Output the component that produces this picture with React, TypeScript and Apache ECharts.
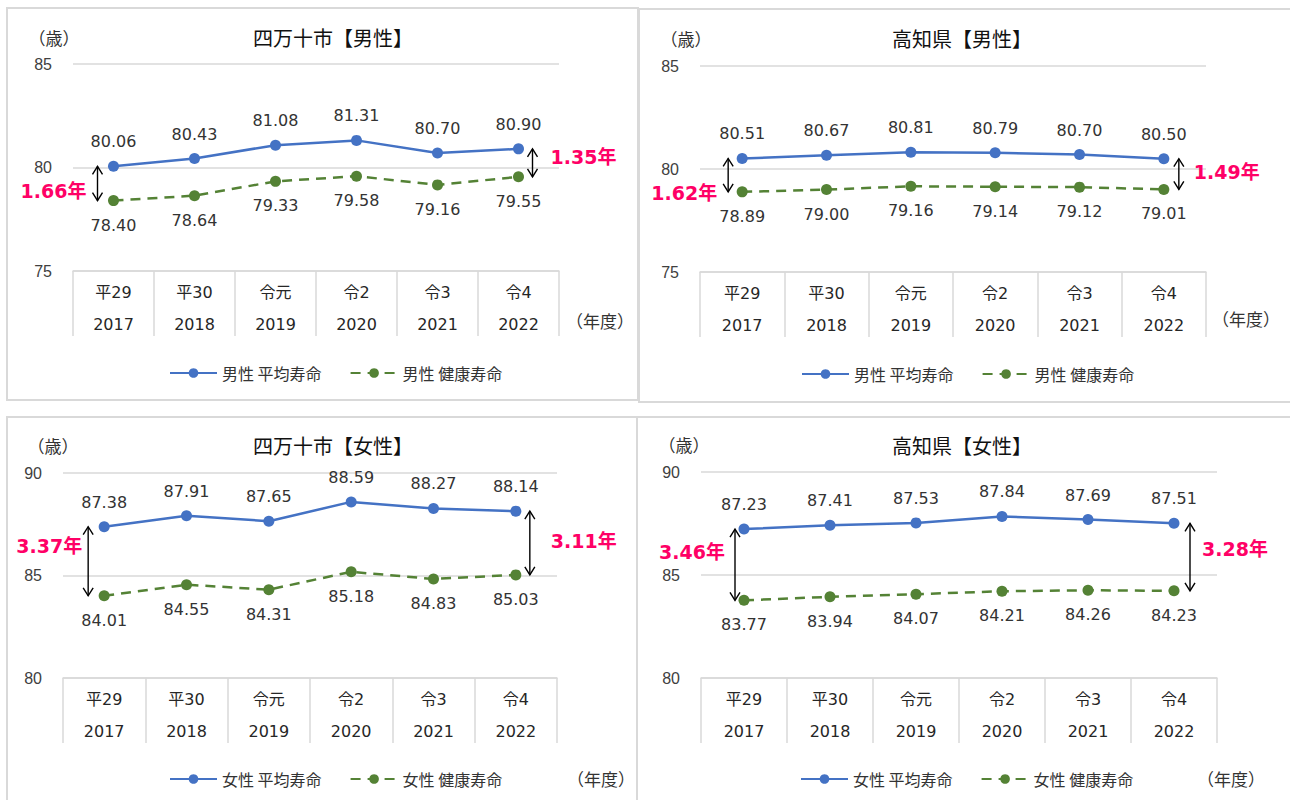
import React, { useEffect, useRef } from "react";
import * as echarts from "echarts";

// ---- data ----
const eraLabels = ["平29", "平30", "令元", "令2", "令3", "令4"];
const yearLabels = ["2017", "2018", "2019", "2020", "2021", "2022"];

const shimantoMaleAvg = [80.06, 80.43, 81.08, 81.31, 80.7, 80.9];
const shimantoMaleHealthy = [78.4, 78.64, 79.33, 79.58, 79.16, 79.55];
const kochiMaleAvg = [80.51, 80.67, 80.81, 80.79, 80.7, 80.5];
const kochiMaleHealthy = [78.89, 79.0, 79.16, 79.14, 79.12, 79.01];
const shimantoFemaleAvg = [87.38, 87.91, 87.65, 88.59, 88.27, 88.14];
const shimantoFemaleHealthy = [84.01, 84.55, 84.31, 85.18, 84.83, 85.03];
const kochiFemaleAvg = [87.23, 87.41, 87.53, 87.84, 87.69, 87.51];
const kochiFemaleHealthy = [83.77, 83.94, 84.07, 84.21, 84.26, 84.23];

const maleRange = [75, 85];
const femaleRange = [80, 90];
const tickStep = 5;

const titles = ["四万十市【男性】", "高知県【男性】", "四万十市【女性】", "高知県【女性】"];
const sexes = ["男性", "男性", "女性", "女性"];
const avgSuffix = " 平均寿命";
const healthySuffix = " 健康寿命";
const yUnit = "（歳）";
const xUnit = "（年度）";

// ---- styles / layout ----
const BLUE = "#4472C4";
const GREEN = "#548235";
const PINK = "#FF0066";
const GRID_GRAY = "#d9d9d9";
const CJK = '"Noto Sans CJK JP", sans-serif';
const NUM = '"DejaVu Sans", "Noto Sans CJK JP", sans-serif';

const panels = [
  {
    avg: shimantoMaleAvg, healthy: shimantoMaleHealthy, range: maleRange,
    border: { x: 7, y: 8, w: 631, h: 392 },
    grid: { left: 73, top: 64, width: 486, height: 207 },
    title: [333, 37], yUnit: [54, 37], xUnit: [600, 320], legend: [169, 374],
    ann: { left: { dx: -16, gap: 11, dy: 8 }, right: { dx: 14, gap: 18, dy: -6 } },
  },
  {
    avg: kochiMaleAvg, healthy: kochiMaleHealthy, range: maleRange,
    border: { x: 639, y: 9, w: 700, h: 393 },
    grid: { left: 700, top: 66, width: 506, height: 206 },
    title: [962, 38], yUnit: [686, 38], xUnit: [1246, 318], legend: [801, 375],
    ann: { left: { dx: -14, gap: 11, dy: 18 }, right: { dx: 15, gap: 15, dy: -2 } },
  },
  {
    avg: shimantoFemaleAvg, healthy: shimantoFemaleHealthy, range: femaleRange,
    border: { x: 7, y: 417, w: 630, h: 420 },
    grid: { left: 63, top: 473, width: 494, height: 205 },
    title: [333, 445], yUnit: [53, 445], xUnit: [601, 778], legend: [169, 780],
    ann: { left: { dx: -16, gap: 6, dy: -15 }, right: { dx: 14, gap: 21, dy: -2 } },
  },
  {
    avg: kochiFemaleAvg, healthy: kochiFemaleHealthy, range: femaleRange,
    border: { x: 637, y: 417, w: 700, h: 420 },
    grid: { left: 701, top: 472, width: 516, height: 206 },
    title: [962, 445], yUnit: [684, 444], xUnit: [1231, 778], legend: [800, 780],
    ann: { left: { dx: -9, gap: 10, dy: -13 }, right: { dx: 16, gap: 12, dy: -8 } },
  },
];

function annotationSeries(i: number, p: any) {
  const n = p.avg.length - 1;
  return {
    type: "custom",
    xAxisIndex: i,
    yAxisIndex: i,
    silent: true,
    z: 10,
    encode: { x: 0, y: [1, 2] },
    data: [
      [0, p.avg[0], p.healthy[0], 0],
      [n, p.avg[n], p.healthy[n], 1],
    ],
    renderItem: (_params: any, api: any) => {
      const idx = api.value(0);
      const side = api.value(3);
      const a = api.value(1);
      const h = api.value(2);
      const top = api.coord([idx, a]);
      const bot = api.coord([idx, h]);
      const cfg = side === 0 ? p.ann.left : p.ann.right;
      const x = top[0] + cfg.dx;
      const y1 = top[1];
      const y2 = bot[1];
      const txt = (a - h).toFixed(2) + "年";
      const st = { stroke: "#000", lineWidth: 1.4, fill: "none" };
      return {
        type: "group",
        children: [
          { type: "line", shape: { x1: x, y1: y1, x2: x, y2: y2 }, style: st },
          { type: "polyline", shape: { points: [[x - 5, y1 + 8], [x, y1], [x + 5, y1 + 8]] }, style: st },
          { type: "polyline", shape: { points: [[x - 5, y2 - 8], [x, y2], [x + 5, y2 - 8]] }, style: st },
          {
            type: "text",
            x: side === 0 ? x - cfg.gap : x + cfg.gap,
            y: (y1 + y2) / 2 + cfg.dy,
            style: {
              text: txt,
              fill: PINK,
              fontSize: 19,
              fontWeight: "bold",
              fontFamily: NUM,
              align: side === 0 ? "right" : "left",
              verticalAlign: "middle",
            },
          },
        ],
      };
    },
  };
}

function buildOption() {
  const grids: any[] = [];
  const xAxes: any[] = [];
  const yAxes: any[] = [];
  const series: any[] = [];
  const legends: any[] = [];
  const graphics: any[] = [];
  const catLabels = eraLabels.map((e, k) => e + "\n" + yearLabels[k]);

  panels.forEach((p, i) => {
    graphics.push({
      type: "rect",
      shape: { x: p.border.x, y: p.border.y, width: p.border.w, height: p.border.h },
      style: { fill: "none", stroke: GRID_GRAY, lineWidth: 2 },
      z: 0,
    });
    graphics.push({
      type: "text", x: p.title[0], y: p.title[1],
      style: { text: titles[i], fontSize: 20, fontFamily: CJK, fill: "#111", align: "center", verticalAlign: "middle" },
    });
    graphics.push({
      type: "text", x: p.yUnit[0], y: p.yUnit[1],
      style: { text: yUnit, fontSize: 17, fontFamily: CJK, fill: "#333", align: "center", verticalAlign: "middle" },
    });
    graphics.push({
      type: "text", x: p.xUnit[0], y: p.xUnit[1],
      style: { text: xUnit, fontSize: 17, fontFamily: CJK, fill: "#333", align: "center", verticalAlign: "middle" },
    });

    grids.push({ left: p.grid.left, top: p.grid.top, width: p.grid.width, height: p.grid.height, containLabel: false });
    xAxes.push({
      type: "category",
      gridIndex: i,
      data: catLabels,
      boundaryGap: true,
      axisLine: { show: true, lineStyle: { color: GRID_GRAY, width: 1.5 } },
      axisTick: { show: true, length: 65, lineStyle: { color: GRID_GRAY, width: 1.5 } },
      axisLabel: { interval: 0, margin: 5, lineHeight: 32, fontSize: 16, color: "#262626", fontFamily: NUM },
      splitLine: { show: false },
    });
    yAxes.push({
      type: "value",
      gridIndex: i,
      min: p.range[0],
      max: p.range[1],
      interval: tickStep,
      axisLine: { show: false },
      axisTick: { show: false },
      axisLabel: { margin: 21, fontSize: 16, color: "#404040", fontFamily: '"Liberation Sans", Arial, sans-serif' },
      splitLine: { show: true, lineStyle: { color: GRID_GRAY, width: 1.5 } },
    });

    const avgName = sexes[i] + avgSuffix;
    const healthyName = sexes[i] + healthySuffix;
    const labelStyle = { fontSize: 16, color: "#333", fontFamily: NUM, distance: 11 };
    series.push({
      type: "line",
      name: avgName,
      xAxisIndex: i,
      yAxisIndex: i,
      data: p.avg,
      symbol: "circle",
      symbolSize: 11,
      itemStyle: { color: BLUE },
      lineStyle: { color: BLUE, width: 2.5 },
      label: { show: true, position: "top", formatter: (d: any) => d.value.toFixed(2), ...labelStyle },
      z: 3,
    });
    series.push({
      type: "line",
      name: healthyName,
      xAxisIndex: i,
      yAxisIndex: i,
      data: p.healthy,
      symbol: "circle",
      symbolSize: 11,
      itemStyle: { color: GREEN },
      lineStyle: { color: GREEN, width: 2.5, type: [10, 7] },
      label: { show: true, position: "bottom", formatter: (d: any) => d.value.toFixed(2), ...labelStyle },
      z: 3,
    });
    series.push(annotationSeries(i, p));

    legends.push({
      data: [avgName, healthyName],
      left: p.legend[0],
      top: p.legend[1] - 9,
      padding: 0,
      itemWidth: 47,
      itemHeight: 12,
      itemGap: 28,
      selectedMode: false,
      textStyle: { fontSize: 16, fontFamily: CJK, color: "#333" },
    });
  });

  return {
    animation: false,
    backgroundColor: "#ffffff",
    grid: grids,
    xAxis: xAxes,
    yAxis: yAxes,
    series,
    legend: legends,
    graphic: graphics,
  };
}

export default function App() {
  const ref = useRef<HTMLDivElement>(null);
  useEffect(() => {
    if (!ref.current) return;
    const chart = echarts.init(ref.current, undefined, { renderer: "svg" });
    chart.setOption(buildOption() as any);
    return () => chart.dispose();
  }, []);
  return (
    <div
      ref={ref}
      style={{ position: "fixed", left: 0, top: 0, width: 1290, height: 800, background: "#fff" }}
    />
  );
}
